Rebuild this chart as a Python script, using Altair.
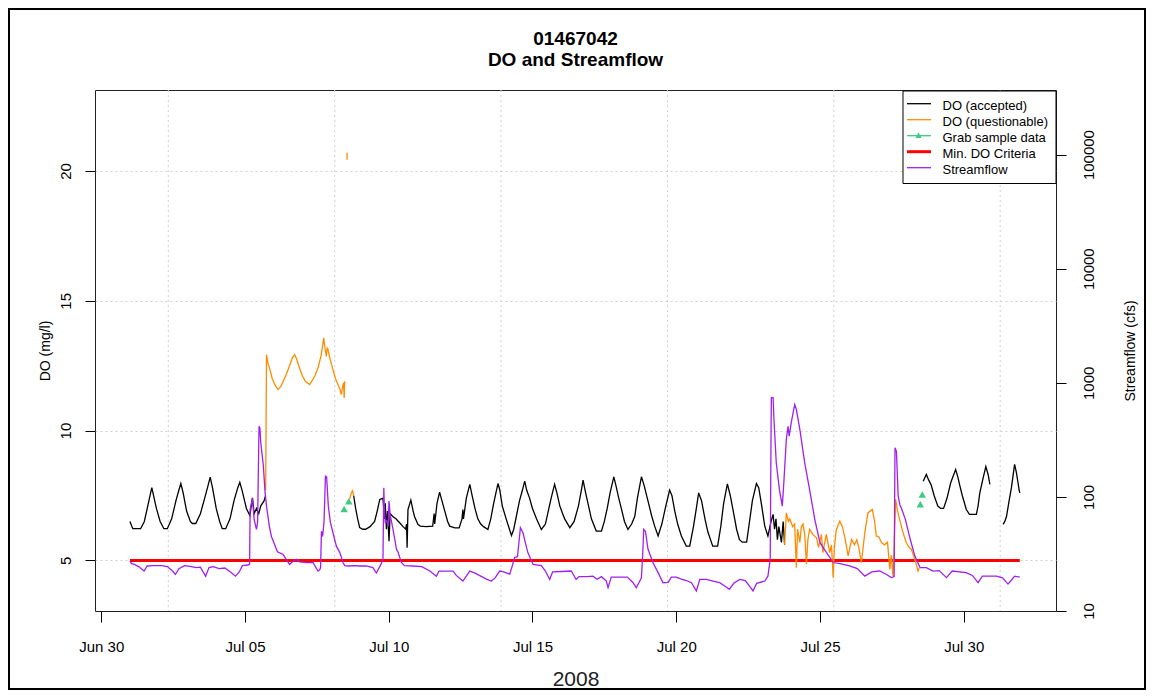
import altair as alt
import pandas as pd

# ---------------- data (days since 2008-06-30 00:00) -------------
# DO (accepted) segments
do_acc1_day = [1.00, 1.05, 1.10, 1.37, 1.50, 1.62, 1.70, 1.76, 1.80, 1.92, 2.05, 2.18, 2.30, 2.45, 2.60, 2.70,
               2.77, 2.85, 2.97, 3.10, 3.17, 3.29, 3.45, 3.60, 3.72, 3.79, 3.87, 4.00, 4.12, 4.21, 4.33, 4.48,
               4.62, 4.75, 4.82, 4.90, 5.05, 5.17, 5.26, 5.32, 5.40, 5.48, 5.55, 5.66, 5.72]
do_acc1_val = [6.50, 6.35, 6.22, 6.22, 6.50, 7.10, 7.50, 7.80, 7.60, 7.00, 6.50, 6.22, 6.22, 6.60, 7.30, 7.70,
               7.96, 7.60, 6.90, 6.50, 6.42, 6.42, 6.80, 7.40, 7.90, 8.21, 7.80, 7.00, 6.50, 6.22, 6.22, 6.60,
               7.30, 7.80, 8.01, 7.70, 7.00, 6.73, 7.41, 6.80, 7.00, 6.80, 7.10, 7.28, 7.50]
do_acc2_day = [8.78, 8.85, 8.92, 8.99, 9.10, 9.20, 9.35, 9.51, 9.60, 9.69, 9.80, 9.85, 9.88, 9.92, 9.96, 10.01,
               10.05, 10.15, 10.25, 10.38, 10.50, 10.59, 10.62, 10.64, 10.67, 10.77, 10.85, 10.90, 11.02, 11.10,
               11.30, 11.53, 11.58, 11.60, 11.68, 11.77, 11.85, 11.95, 12.05, 12.12, 12.30, 12.45, 12.55, 12.58,
               12.60, 12.70, 12.82, 12.90, 13.00, 13.10, 13.20, 13.30, 13.45, 13.55, 13.65, 13.80, 13.86, 13.95,
               14.09, 14.20, 14.27, 14.35, 14.44, 14.55, 14.65, 14.73, 14.80, 14.90, 15.00, 15.14, 15.31, 15.45,
               15.55, 15.65, 15.77, 15.85, 15.95, 16.05, 16.12, 16.30, 16.45, 16.60, 16.70, 16.76, 16.85, 16.95,
               17.05, 17.22, 17.40, 17.50, 17.60, 17.70, 17.83, 17.90, 18.00, 18.09, 18.20, 18.32, 18.45, 18.56,
               18.65, 18.79, 18.88, 19.02, 19.15, 19.25, 19.37, 19.50, 19.62, 19.77, 19.85, 19.95, 20.05, 20.18,
               20.35, 20.47, 20.60, 20.70, 20.78, 20.88, 21.00, 21.10, 21.27, 21.44, 21.55, 21.65, 21.78, 21.88,
               22.00, 22.10, 22.20, 22.30, 22.45, 22.56, 22.65, 22.79, 22.87, 22.96, 23.08, 23.19, 23.30, 23.37,
               23.42, 23.47, 23.52, 23.57, 23.66, 23.72, 23.77]
do_acc2_val = [7.50, 7.00, 6.60, 6.26, 6.20, 6.20, 6.30, 6.50, 6.90, 7.35, 7.40, 6.60, 7.20, 6.20, 6.90, 5.74,
               6.80, 6.68, 6.60, 6.45, 6.30, 6.20, 6.40, 5.49, 6.96, 7.32, 6.90, 6.68, 6.38, 6.32,
               6.30, 6.32, 6.80, 6.40, 7.20, 7.63, 7.30, 6.90, 6.50, 6.32, 6.25, 6.25, 6.60, 6.96,
               6.60, 7.40, 7.93, 7.50, 7.00, 6.60, 6.40, 6.30, 6.19, 6.60, 7.20, 7.96, 7.73, 7.10,
               6.58, 6.20, 5.96, 6.20, 6.70, 7.30, 7.70, 8.05, 7.70, 7.40, 7.00, 6.60, 6.19, 6.40,
               6.90, 7.40, 7.93, 7.60, 7.10, 6.80, 6.60, 6.26, 6.50, 7.10, 7.70, 8.09, 7.60, 7.10,
               6.60, 6.13, 6.13, 6.50, 7.00, 7.60, 8.22, 7.90, 7.40, 7.00, 6.50, 6.19, 6.40, 6.70,
               7.40, 8.22, 7.90, 7.28, 6.70, 6.32, 5.94, 6.40, 7.00, 7.71, 7.50, 6.90, 6.40, 5.94,
               5.55, 5.55, 6.30, 7.00, 7.60, 7.30, 6.60, 6.10, 5.55, 5.55, 6.30, 7.20, 7.95, 7.50,
               6.80, 6.20, 5.80, 5.70, 5.70, 6.58, 7.30, 7.96, 7.80, 7.20, 6.32, 5.94, 6.50, 6.77,
               6.20, 6.60, 5.80, 6.30, 5.69, 6.50, 5.60]
do_acc3_day = [28.59, 28.70, 28.78, 28.87, 28.97, 29.10, 29.20, 29.30, 29.42, 29.55, 29.72, 29.80, 29.86, 29.95,
               30.09, 30.20, 30.44, 30.50, 30.56, 30.68, 30.77, 30.85, 30.91]
do_acc3_val = [8.05, 8.31, 8.10, 7.90, 7.50, 7.09, 7.00, 7.00, 7.40, 8.00, 8.50, 8.20, 7.90, 7.50,
               6.96, 6.77, 6.77, 7.10, 7.60, 8.20, 8.61, 8.30, 7.93]
do_acc4_day = [31.37, 31.43, 31.49, 31.58, 31.66, 31.77, 31.83, 31.89, 31.93, 31.95]
do_acc4_val = [6.39, 6.50, 6.70, 7.30, 7.80, 8.70, 8.40, 7.98, 7.70, 7.60]

# DO (questionable) segments
do_q1_day = [5.72, 5.75, 5.80, 5.88, 5.95, 6.05, 6.15, 6.25, 6.35, 6.45, 6.55, 6.65, 6.73, 6.80, 6.90, 7.00,
             7.10, 7.25, 7.35, 7.45, 7.55, 7.65, 7.74, 7.78, 7.83, 7.86, 7.89, 7.95, 8.06, 8.15, 8.24, 8.30,
             8.35, 8.40, 8.43, 8.45, 8.47]
do_q1_val = [7.70, 12.93, 12.60, 12.30, 12.00, 11.75, 11.58, 11.70, 11.95, 12.20, 12.50, 12.80, 12.93, 12.75,
             12.40, 12.10, 11.90, 11.77, 11.95, 12.15, 12.45, 12.90, 13.57, 13.20, 12.86, 13.20, 13.12, 12.80,
             12.35, 12.00, 11.77, 11.60, 11.39, 11.70, 11.84, 11.26, 11.90]
do_q2_day = [8.550, 8.553]
do_q2_val = [20.43, 20.70]
do_q3_day = [8.64, 8.70, 8.74, 8.78]
do_q3_val = [7.35, 7.60, 7.68, 7.50]
do_q4_day = [23.77, 23.83, 23.90, 23.95, 24.05, 24.12, 24.18, 24.22, 24.30, 24.35, 24.41, 24.47, 24.53, 24.58,
             24.64, 24.75, 24.88, 24.95, 25.05, 25.10, 25.22, 25.34, 25.40, 25.46, 25.50, 25.57, 25.69, 25.78,
             25.88, 25.98, 26.10, 26.20, 26.28, 26.35, 26.44, 26.56, 26.67, 26.82, 26.90, 26.96, 27.05, 27.14,
             27.25, 27.35, 27.43, 27.48, 27.54, 27.58, 27.63, 27.70, 27.77, 27.89, 28.00, 28.10, 28.18, 28.30,
             28.41, 28.45]
do_q4_val = [5.60, 6.83, 6.50, 6.60, 6.30, 6.40, 4.72, 6.20, 5.69, 6.30, 6.40, 6.00, 4.85, 5.80,
             6.20, 6.00, 5.87, 5.50, 6.00, 5.30, 6.00, 5.30, 5.60, 4.33, 5.50, 6.19, 6.51, 6.30,
             5.80, 5.17, 5.81, 5.60, 5.80, 5.50, 4.91, 6.07, 6.83, 6.96, 6.50, 5.94, 5.90, 5.69,
             5.60, 5.70, 4.65, 5.20, 4.40, 5.50, 7.35, 6.90, 6.58, 6.07, 5.69, 5.50, 5.42, 5.04,
             4.59, 4.70]

# Grab sample data
grab_day = [8.45, 8.61, 28.49, 28.56]
grab_val = [6.98, 7.28, 7.16, 7.54]

# Minimum DO criteria
min_do_day = [1.00, 31.95]
min_do_val = [5.0, 5.0]

# Streamflow (cfs)
flow_day = [1.00, 1.05, 1.15, 1.30, 1.49, 1.60, 1.80, 2.10, 2.30, 2.48, 2.58, 2.70, 2.90, 3.10, 3.30, 3.45,
            3.63, 3.75, 3.90, 4.10, 4.30, 4.50, 4.67, 4.80, 4.91, 5.10, 5.16, 5.18, 5.26, 5.32, 5.40, 5.44,
            5.47, 5.49, 5.52, 5.55, 5.59, 5.64, 5.70, 5.75, 5.85, 5.92, 6.00, 6.13, 6.32, 6.45, 6.55, 6.65,
            6.79, 6.90, 7.14, 7.37, 7.54, 7.60, 7.63, 7.66, 7.70, 7.75, 7.80, 7.84, 7.90, 7.97, 8.06, 8.18,
            8.30, 8.41, 8.47, 8.60, 8.80, 8.99, 9.22, 9.45, 9.57, 9.67, 9.74, 9.80, 9.83, 9.85, 9.88, 9.93,
            9.98, 10.01, 10.05, 10.15, 10.27, 10.32, 10.44, 10.55, 10.84, 11.15, 11.43, 11.66, 11.75, 12.00,
            12.24, 12.35, 12.58, 12.70, 12.82, 13.00, 13.20, 13.40, 13.57, 13.70, 13.86, 14.00, 14.21, 14.30,
            14.38, 14.48, 14.55, 14.58, 14.67, 14.75, 14.84, 15.02, 15.31, 15.45, 15.60, 15.70, 16.00, 16.35,
            16.52, 16.62, 16.90, 17.10, 17.25, 17.40, 17.57, 17.63, 17.74, 18.03, 18.30, 18.50, 18.61, 18.79,
            18.83, 18.87, 18.93, 19.02, 19.19, 19.37, 19.54, 19.72, 19.83, 20.00, 20.18, 20.35, 20.53, 20.70,
            20.82, 21.05, 21.28, 21.51, 21.70, 21.85, 22.00, 22.21, 22.40, 22.55, 22.67, 22.80, 23.08, 23.19,
            23.27, 23.30, 23.31, 23.37, 23.40, 23.48, 23.59, 23.69, 23.75, 23.83, 23.89, 23.93, 24.00, 24.12,
            24.18, 24.30, 24.47, 24.64, 24.82, 25.00, 25.23, 25.46, 25.70, 26.03, 26.30, 26.56, 26.80, 27.08,
            27.30, 27.48, 27.58, 27.61, 27.66, 27.72, 27.78, 27.83, 27.97, 28.14, 28.30, 28.48, 28.70, 28.93,
            29.15, 29.40, 29.60, 30.09, 30.30, 30.50, 30.65, 31.14, 31.35, 31.54, 31.65, 31.77, 31.95]
flow_cfs = [27.4, 26.0, 25.6, 24.5, 22.4, 24.8, 25.0, 25.0, 24.5, 22.4, 20.9, 23.5, 25.0, 24.6, 24.0, 24.2,
            20.2, 24.0, 24.5, 23.5, 23.8, 22.0, 20.2, 22.0, 25.0, 25.3, 25.6, 77.7, 97.0, 63.6, 52.0, 60.0,
            200.0, 416.0, 400.0, 300.0, 244.0, 186.0, 109.0, 83.0, 55.0, 45.0, 40.0, 33.0, 31.4, 28.0, 25.6, 27.0,
            28.4, 27.0, 26.5, 26.5, 22.4, 23.0, 24.0, 50.0, 45.0, 60.0, 152.0, 150.0, 83.0, 60.0, 48.5, 37.0,
            32.5, 26.6, 25.0, 24.8, 25.0, 24.8, 24.8, 24.0, 21.5, 24.0, 26.0, 28.4, 120.0, 78.0, 60.0, 62.0,
            55.0, 92.0, 70.0, 52.0, 34.7, 33.0, 26.6, 25.0, 24.8, 24.5, 22.4, 20.2, 22.4, 22.4,
            22.4, 20.5, 18.3, 20.2, 22.4, 21.5, 20.2, 19.0, 18.3, 19.5, 22.4, 22.0, 21.0, 25.0,
            29.4, 30.0, 45.0, 53.6, 48.5, 40.0, 32.5, 25.6, 25.0, 22.4, 18.9, 22.0, 22.2, 22.4,
            18.9, 20.0, 20.0, 20.2, 19.0, 20.0, 18.3, 16.0, 19.8, 19.8, 19.8, 17.7, 16.0, 19.5,
            30.0, 52.0, 50.0, 34.7, 26.6, 21.7, 17.7, 17.8, 19.8, 19.8, 19.0, 18.5, 17.7, 15.0,
            18.9, 18.9, 18.3, 17.7, 16.5, 15.5, 17.5, 18.9, 18.5, 16.5, 15.0, 17.5, 18.3, 20.2,
            28.4, 400.0, 740.0, 740.0, 479.0, 199.0, 116.0, 83.0, 142.0, 319.0, 416.0, 341.0, 446.0, 646.0,
            583.0, 390.0, 199.0, 116.0, 63.6, 39.7, 32.5, 26.6, 26.0, 24.8, 23.5, 20.2, 22.0, 22.4,
            21.0, 19.6, 20.0, 270.0, 250.0, 102.0, 85.0, 80.0, 63.6, 42.5, 30.3, 24.0, 24.0, 22.4,
            22.6, 19.6, 22.4, 21.7, 20.5, 17.7, 20.2, 20.2, 19.5, 17.2, 18.5, 20.2, 19.8]

# vertical grid positions (R grid at 500000-second steps), days since Jun 30
grid_day = [2.3333, 8.1204, 13.9074, 19.6944, 25.4815, 31.2685]
# x tick dates (days since Jun 30)
xtick_day = [0, 5, 10, 15, 20, 25, 30]
do_ticks = [5, 10, 15, 20]
flow_ticks = [10, 100, 1000, 10000, 100000]

legend_labels = ["DO (accepted)", "DO (questionable)", "Grab sample data", "Min. DO Criteria", "Streamflow"]
legend_colors = ["#000000", "#FF8C00", "#3CCB80", "#FF0000", "#A020F0"]
title_lines = ["01467042", "DO and Streamflow"]

# ---------------- helpers ----------------
DAY_MS = 86400000
BASE_MS = int(pd.Timestamp("2008-06-30", tz="UTC").value // 10**6)


def ms(days):
    return [BASE_MS + d * DAY_MS for d in days]


def seg_df(parts):
    frames = []
    for i, (d, v) in enumerate(parts):
        frames.append(pd.DataFrame({"t": ms(d), "v": v, "seg": i}))
    return pd.concat(frames, ignore_index=True)


FONT = "Liberation Sans"
W, H = 961, 521

x_scale = alt.Scale(type="utc", domain=[BASE_MS - 0.216 * DAY_MS, BASE_MS + 33.21 * DAY_MS], nice=False)
x_axis = alt.Axis(values=ms(xtick_day), labelExpr="utcFormat(datum.value, '%b %d')", title="2008",
                  labelFont=FONT, labelFontSize=15, labelColor="#000", labelBaseline="middle",
                  labelPadding=24, tickSize=11, tickColor="#000", domain=False, grid=False,
                  labelFlush=False, labelOverlap=False,
                  titleFont=FONT, titleFontSize=21, titleFontWeight="normal", titleColor="#222",
                  titleBaseline="alphabetic", titleY=74, titleX=W / 2)
X = alt.X("t:T", scale=x_scale, axis=x_axis)

y_axis = alt.Axis(values=do_ticks, orient="left", title="DO (mg/l)", labelAngle=270, labelAlign="center",
                  labelBaseline="middle", labelPadding=20, tickSize=10, tickColor="#000",
                  labelFont=FONT, labelFontSize=15, labelColor="#000", domain=False,
                  grid=True, gridColor="#d0d0d0", gridDash=[2, 3], gridWidth=1,
                  titleFont=FONT, titleFontSize=14, titleFontWeight="normal", titleColor="#000",
                  titleAngle=270, titleAlign="center", titleBaseline="middle", titleX=-50, titleY=H / 2)
Y = alt.Y("v:Q", scale=alt.Scale(domain=[3.05, 23.12], nice=False, zero=False), axis=y_axis)

yq_axis = alt.Axis(values=flow_ticks, orient="right", format="d", title="Streamflow (cfs)", labelAngle=270,
                   labelAlign="center", labelBaseline="middle", labelPadding=22, tickSize=10, tickColor="#000",
                   labelFont=FONT, labelFontSize=15, labelColor="#000", domain=False, grid=False,
                   titleFont=FONT, titleFontSize=14, titleFontWeight="normal", titleColor="#000",
                   titleAngle=270, titleAlign="center", titleBaseline="middle", titleX=74, titleY=H / 2)
YQ = alt.Y("q:Q", scale=alt.Scale(type="log", domain=[10, 368000], nice=False), axis=yq_axis)

# ---------------- layers ----------------
grid_v = alt.Chart(pd.DataFrame({"t": ms(grid_day)})).mark_rule(
    color="#d0d0d0", strokeDash=[2, 3], strokeWidth=1).encode(x=X)

red = alt.Chart(pd.DataFrame({"t": ms(min_do_day), "v": min_do_val})).mark_line(
    color="#FF0000", strokeWidth=3).encode(x=X, y=Y)

black = alt.Chart(seg_df([(do_acc1_day, do_acc1_val), (do_acc2_day, do_acc2_val),
                          (do_acc3_day, do_acc3_val), (do_acc4_day, do_acc4_val)])).mark_line(
    color="#000000", strokeWidth=1.3).encode(x=X, y=Y, detail="seg:N")

orange = alt.Chart(seg_df([(do_q1_day, do_q1_val), (do_q2_day, do_q2_val),
                           (do_q3_day, do_q3_val), (do_q4_day, do_q4_val)])).mark_line(
    color="#FF8C00", strokeWidth=1.3).encode(x=X, y=Y, detail="seg:N")

green = alt.Chart(pd.DataFrame({"t": ms(grab_day), "v": grab_val})).mark_point(
    shape="triangle-up", filled=True, color="#3CCB80", size=55, opacity=1).encode(x=X, y=Y)

do_group = alt.layer(grid_v, red, black, orange, green)

purple = alt.Chart(pd.DataFrame({"t": ms(flow_day), "q": flow_cfs})).mark_line(
    color="#A020F0", strokeWidth=1.3).encode(x=X, y=YQ)

# legend (drawn inside the plot, top right)
leg_layers = [alt.Chart(pd.DataFrame({"a": [0]})).mark_rect(fill="white", stroke="#000", strokeWidth=1).encode(
    x=alt.value(808), x2=alt.value(961), y=alt.value(1), y2=alt.value(93.5))]
for i, (lab, col) in enumerate(zip(legend_labels, legend_colors)):
    ly = 13.7 + 16 * i
    leg_layers.append(alt.Chart(pd.DataFrame({"a": [0]})).mark_rule(
        color=col, strokeWidth=3 if i == 3 else 1.3).encode(
        x=alt.value(812), x2=alt.value(836), y=alt.value(ly)))
    leg_layers.append(alt.Chart(pd.DataFrame({"label": [lab]})).mark_text(
        font=FONT, fontSize=13, align="left", baseline="middle", color="#000").encode(
        x=alt.value(847.5), y=alt.value(ly + 2), text="label:N"))
leg_layers.append(alt.Chart(pd.DataFrame({"a": [0]})).mark_point(
    shape="triangle-up", filled=True, color="#3CCB80", size=40, opacity=1).encode(
    x=alt.value(823.5), y=alt.value(45.2)))

# title lines and outer frame
title_df = pd.DataFrame({"label": title_lines, "ty": [-50.6, -30.3]})
title_layers = [alt.Chart(title_df.iloc[[k]]).mark_text(
    font=FONT, fontSize=19, fontWeight="bold", align="center", baseline="middle", color="#000").encode(
    x=alt.value(W / 2), y=alt.value(float(title_df.ty.iloc[k])), text="label:N") for k in range(2)]

frame = alt.Chart(pd.DataFrame({"a": [0]})).mark_rect(
    fillOpacity=0, stroke="#000", strokeWidth=2).encode(
    x=alt.value(-86), x2=alt.value(1050), y=alt.value(-81), y2=alt.value(599))

chart = alt.layer(do_group, purple, *leg_layers, *title_layers, frame).resolve_scale(
    y="independent"
).properties(
    width=W, height=H,
    padding={"left": 87, "top": 82, "right": 90, "bottom": 79},
    autosize=alt.AutoSizeParams(type="none"),
    background="white",
).configure_view(stroke="#222", strokeWidth=1)

chart.save("out.html", embed_options={"renderer": "svg", "actions": False})
